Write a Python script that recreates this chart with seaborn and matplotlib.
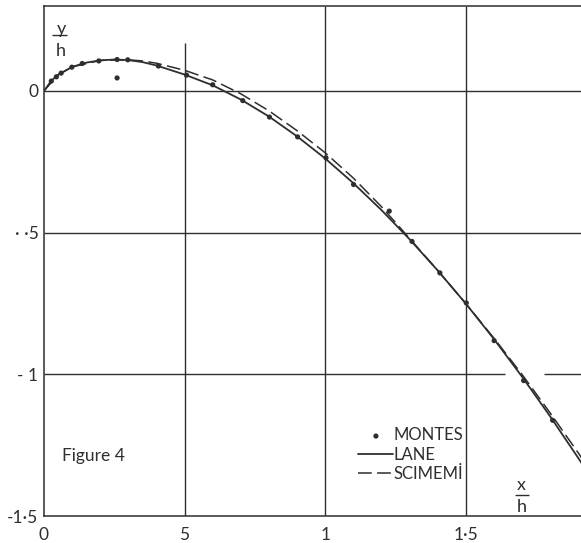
import matplotlib
matplotlib.use("Agg")
import matplotlib.pyplot as plt
import seaborn as sns
import pandas as pd

# curves (x/h, y/h)
lane_x = [0, 0.025, 0.05, 0.1, 0.15, 0.2, 0.25, 0.3, 0.35, 0.4, 0.5, 0.6, 0.7,
          0.8, 0.9, 1.0, 1.1, 1.2, 1.3, 1.4, 1.5, 1.6, 1.7, 1.8, 1.9, 1.95]
lane_y = [0, 0.035, 0.057, 0.085, 0.100, 0.108, 0.111, 0.109, 0.102, 0.090,
          0.058, 0.020, -0.030, -0.090, -0.160, -0.238, -0.325, -0.420, -0.523,
          -0.633, -0.750, -0.875, -1.008, -1.148, -1.295, -1.370]

scimemi_x = [0, 0.05, 0.1, 0.2, 0.3, 0.35, 0.4, 0.5, 0.6, 0.7, 0.8, 0.9, 1.0,
             1.1, 1.2, 1.3, 1.4, 1.5, 1.6, 1.7, 1.8, 1.9, 1.95]
scimemi_y = [0, 0.057, 0.085, 0.108, 0.110, 0.106, 0.098, 0.073, 0.039,
             -0.010, -0.070, -0.140, -0.218, -0.307, -0.408, -0.520, -0.633,
             -0.750, -0.872, -1.000, -1.136, -1.277, -1.350]

montes_x = [0.026, 0.044, 0.061, 0.099, 0.136, 0.195, 0.260, 0.298, 0.407,
            0.507, 0.600, 0.707, 0.802, 0.902, 1.003, 1.101, 1.228, 1.309,
            1.408, 1.502, 1.601, 1.706, 1.809, 0.260]
montes_y = [0.035, 0.050, 0.063, 0.084, 0.097, 0.106, 0.111, 0.110, 0.088,
            0.056, 0.022, -0.034, -0.092, -0.162, -0.236, -0.330, -0.424,
            -0.531, -0.642, -0.748, -0.881, -1.022, -1.162, 0.046]

x_ticks = [0, 0.5, 1, 1.5]
x_tick_labels = ["0", "5", "1", "1·5"]
y_ticks = [0, -0.5, -1, -1.5]
y_tick_labels = ["0", "· ·5", "- 1", "-1·5"]

ink = "#2e2e2e"

sns.set_theme(style="white")
plt.rcParams["font.family"] = ["Lato", "DejaVu Sans"]

fig = plt.figure(figsize=(5.81, 5.43), dpi=100)
ax = fig.add_axes([0.0757, 0.0497, 1 - 0.0757, 0.989 - 0.0497])

lane = pd.DataFrame({"x": lane_x, "y": lane_y})
scim = pd.DataFrame({"x": scimemi_x, "y": scimemi_y})
mont = pd.DataFrame({"x": montes_x, "y": montes_y})

# grid drawn by hand, the scan has a few broken lines
ax.vlines(0.5, -1.5, 0.17, color=ink, lw=1.0, zorder=1)
ax.vlines([1.0, 1.5], -1.5, 0.30, color=ink, lw=1.0, zorder=1)
ax.hlines([0, -0.5], 0, 1.91, color=ink, lw=1.0, zorder=1)
ax.hlines(-1, 0, 1.64, color=ink, lw=1.0, zorder=1)
ax.hlines(-1, 1.78, 1.91, color=ink, lw=1.0, zorder=1)

sns.scatterplot(data=mont, x="x", y="y", ax=ax, color=ink, s=14,
                edgecolor="none", label="MONTES", zorder=3)
sns.lineplot(data=lane, x="x", y="y", ax=ax, color=ink, lw=1.3,
             sort=False, estimator=None, label="LANE", zorder=2)
sns.lineplot(data=scim, x="x", y="y", ax=ax, color=ink, lw=1.1,
             sort=False, estimator=None, label="SCIMEMİ", zorder=2,
             dashes=False)
ax.lines[-1].set_dashes((9, 3.5))

ax.set_xlim(0, 1.91)
ax.set_ylim(-1.5, 0.30)
ax.set_xticks(x_ticks, labels=x_tick_labels)
ax.set_yticks(y_ticks, labels=y_tick_labels)
ax.tick_params(length=0, labelsize=12.5, colors=ink)
ax.tick_params(axis="x", pad=8)
ax.tick_params(axis="y", pad=4)
ax.set_xlabel("")
ax.set_ylabel("")

for side in ["left", "bottom", "top"]:
    ax.spines[side].set_color(ink)
    ax.spines[side].set_linewidth(1.1)
ax.spines["right"].set_visible(False)

leg = ax.legend(loc="upper left", bbox_to_anchor=(0.57, 0.19), frameon=False,
                fontsize=12, handlelength=2.1, handletextpad=0.0,
                labelspacing=0.2, borderpad=0, markerscale=1.0)
for t in leg.get_texts():
    t.set_color(ink)

# axis captions as stacked fractions
ax.text(0.032, 0.955, "y", transform=ax.transAxes, ha="center", va="center",
        fontsize=13, color=ink)
ax.plot([0.015, 0.042], [0.943, 0.943], transform=ax.transAxes, color=ink,
        lw=1.0, solid_capstyle="butt")
ax.text(0.032, 0.912, "h", transform=ax.transAxes, ha="center", va="center",
        fontsize=13, color=ink)

ax.text(0.889, 0.061, "x", transform=ax.transAxes, ha="center", va="center",
        fontsize=13, color=ink)
ax.plot([0.877, 0.903], [0.042, 0.042], transform=ax.transAxes, color=ink,
        lw=1.0, solid_capstyle="butt")
ax.text(0.889, 0.017, "h", transform=ax.transAxes, ha="center", va="center",
        fontsize=13, color=ink)

ax.text(0.034, 0.117, "Figure 4", transform=ax.transAxes, ha="left",
        va="center", fontsize=12.5, color=ink)

fig.savefig("out.png", dpi=100, facecolor="white")
